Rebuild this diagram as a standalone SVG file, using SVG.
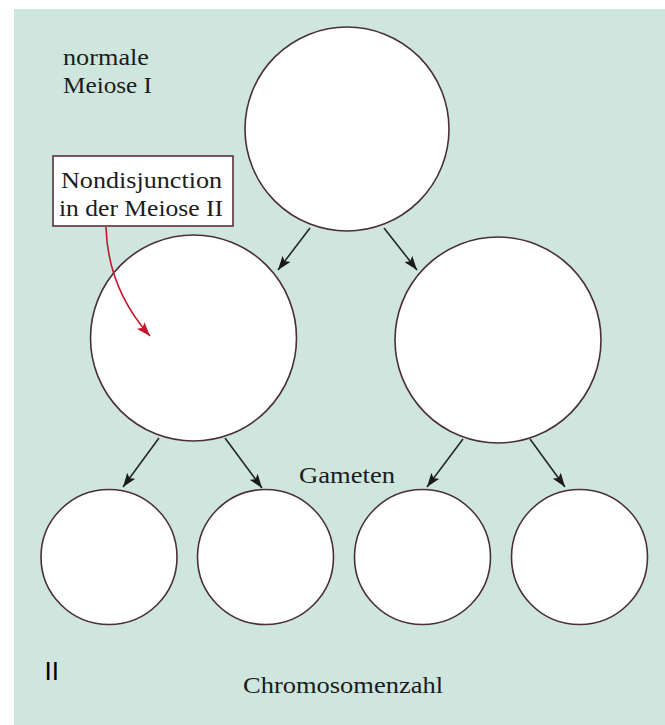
<svg xmlns="http://www.w3.org/2000/svg" width="665" height="725" viewBox="0 0 665 725">
  <style>
    .cell { fill: #ffffff; stroke: #4a3035; stroke-width: 1.6; }
    .lbl { font-family: "Liberation Serif", "Times New Roman", serif; font-size: 24px; fill: #1c1c1c; }
    .lbl-sm { font-family: "Liberation Serif", "Times New Roman", serif; font-size: 23px; fill: #1c1c1c; }
    .conn { stroke: #262626; stroke-width: 1.6; fill: none; marker-end: url(#arrow); }
    .red { stroke: #c8142f; stroke-width: 1.6; fill: none; marker-end: url(#arrowRed); }
    .box { fill: #ffffff; stroke: #5a3038; stroke-width: 1.6; }
  </style>
  <defs>
    <marker id="arrow" viewBox="0 0 14 10" refX="14" refY="5" markerWidth="14" markerHeight="10" markerUnits="userSpaceOnUse" orient="auto">
      <path d="M0,0 L14,5 L0,10 L3,5 Z" fill="#1a1a1a"/>
    </marker>
    <marker id="arrowRed" viewBox="0 0 14 10" refX="14" refY="5" markerWidth="14" markerHeight="10" markerUnits="userSpaceOnUse" orient="auto">
      <path d="M0,0 L14,5 L0,10 L3,5 Z" fill="#c8142f"/>
    </marker>
  </defs>

  <rect id="background" x="14" y="9" width="651" height="716" fill="#cfe6df"/>

  <g id="label-normale">
    <text class="lbl" x="63" y="65" textLength="86" lengthAdjust="spacingAndGlyphs">normale</text>
    <text class="lbl" x="63" y="93" textLength="89" lengthAdjust="spacingAndGlyphs">Meiose I</text>
  </g>

  <g id="node-top">
    <circle class="cell" cx="347" cy="129" r="102"/>
  </g>
  <g id="node-mid-left">
    <circle class="cell" cx="193.5" cy="338" r="103"/>
  </g>
  <g id="node-mid-right">
    <circle class="cell" cx="498" cy="340" r="103"/>
  </g>
  <g id="node-gamete-1">
    <ellipse class="cell" cx="109" cy="557" rx="68" ry="67.5"/>
  </g>
  <g id="node-gamete-2">
    <ellipse class="cell" cx="265.5" cy="557" rx="68" ry="67.5"/>
  </g>
  <g id="node-gamete-3">
    <ellipse class="cell" cx="422.5" cy="557" rx="68" ry="67.5"/>
  </g>
  <g id="node-gamete-4">
    <ellipse class="cell" cx="579.5" cy="557" rx="68" ry="67.5"/>
  </g>

  <g id="note-nondisjunction">
    <rect class="box" x="53" y="156" width="180" height="70"/>
    <text class="lbl" x="61" y="188" textLength="161" lengthAdjust="spacingAndGlyphs">Nondisjunction</text>
    <text class="lbl" x="59" y="216" textLength="164" lengthAdjust="spacingAndGlyphs">in der Meiose II</text>
  </g>

  <g id="connectors">
    <line class="conn" x1="310" y1="228" x2="278" y2="270"/>
    <line class="conn" x1="384" y1="228" x2="417" y2="270"/>
    <line class="conn" x1="159" y1="438" x2="123" y2="487"/>
    <line class="conn" x1="225" y1="438" x2="262" y2="488"/>
    <line class="conn" x1="463" y1="439" x2="427" y2="487"/>
    <line class="conn" x1="530" y1="439" x2="565" y2="487"/>
    <path class="red" d="M106,227 C107,262 118,300 150,336"/>
  </g>

  <g id="label-gameten">
    <text class="lbl-sm" x="299" y="483" textLength="96" lengthAdjust="spacingAndGlyphs">Gameten</text>
  </g>
  <g id="label-II">
    <text x="44.5" y="680" font-family="'Liberation Sans', Arial, sans-serif" font-size="26" fill="#000000">II</text>
  </g>
  <g id="label-chromosomenzahl">
    <text class="lbl-sm" x="243" y="693" textLength="200" lengthAdjust="spacingAndGlyphs">Chromosomenzahl</text>
  </g>
</svg>
